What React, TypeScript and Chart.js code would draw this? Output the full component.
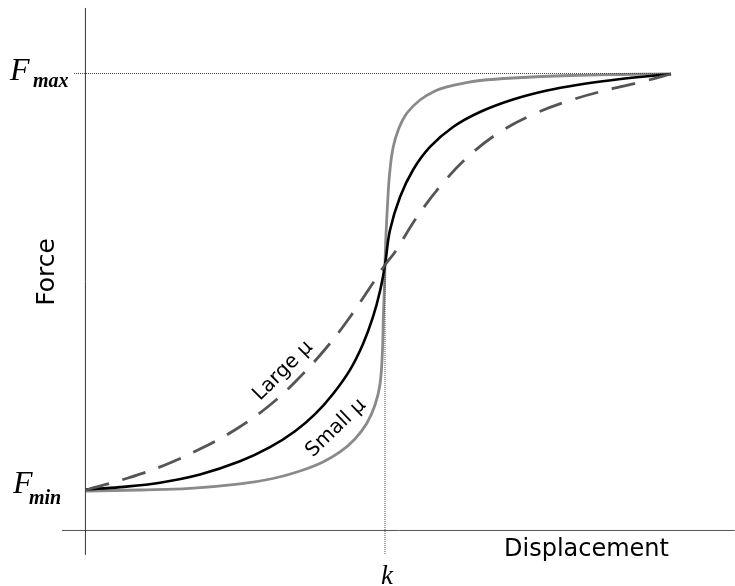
import React, { useEffect, useRef } from "react";
import { Chart, registerables } from "chart.js";

Chart.register(...registerables);

// Units: displacement 0..100 (curve span), force 0 = Fmin, 100 = Fmax
const kValue = 51.11;
const fMin = 0;
const fMax = 100;
const fAtK = 54.13;

const largeMuX = [0, 7.18, 13.5, 19.83, 25.98, 31.45, 36.07, 41.2, 45.13, 49.06, 51.11, 52.82, 56.58, 61.03, 65.64, 70.77, 76.41, 83.25, 90.09, 95.9, 100];
const largeMuY = [0.24, 3.11, 6.23, 10.3, 15.09, 20.6, 26.59, 34.49, 41.68, 49.82, 54.13, 57.25, 65.63, 73.77, 80.48, 85.99, 90.18, 93.77, 96.41, 98.32, 99.88];

const midMuX = [0, 5.81, 12.65, 19.49, 26.32, 31.45, 35.73, 39.15, 42.22, 45.13, 47.35, 49.06, 50.26, 51.11, 51.97, 53.68, 55.9, 58.8, 62.74, 67.35, 72.99, 78.8, 84.44, 90.09, 95.56, 100];
const midMuY = [0.36, 0.93, 1.99, 3.95, 7.11, 10.49, 14.32, 18.4, 23.23, 29.01, 35.21, 41.68, 47.9, 54.13, 62.51, 70.42, 76.89, 82.4, 87.19, 90.78, 93.77, 95.93, 97.37, 98.44, 99.28, 99.88];

const smallMuX = [0, 9.23, 17.78, 26.32, 31.97, 36.58, 40.34, 43.42, 45.98, 48.03, 49.4, 50.26, 50.68, 50.85, 51.03, 51.11, 51.28, 51.54, 51.88, 52.48, 53.5, 54.87, 57.09, 59.66, 61.71, 64.79, 67.35, 72.99, 82.74, 91.28, 100];
const smallMuY = [0, 0.24, 0.6, 1.68, 2.99, 4.79, 6.83, 9.34, 12.46, 16.29, 20.6, 25.63, 33.77, 42.63, 49.34, 54.13, 61.32, 68.5, 75.69, 82.16, 86.95, 90.54, 93.65, 95.81, 96.77, 97.72, 98.32, 98.92, 99.52, 99.76, 99.88];

// axis extents in data units
const axisXAt = -0.1;
const axisYAt = -9.46;
const axisXFrom = -4.1;
const axisXTo = 110.9;
const axisYFrom = -15.3;
const axisYTo = 115.7;
const fMaxLineFrom = -2.05;
const fMaxLineTo = 99.3;

const xMin = -14.7;
const xMax = 110.94;
const yMin = -22.76;
const yMax = 117.6;

const zip = (xs: number[], ys: number[]) => xs.map((x, i) => ({ x, y: ys[i] }));

const labelsPlugin = {
  id: "labels",
  afterDraw(chart: any) {
    const ctx = chart.ctx;
    const xs = chart.scales.x;
    const ys = chart.scales.y;
    ctx.save();
    ctx.fillStyle = "#000";
    // Force
    ctx.save();
    ctx.translate(54, 272);
    ctx.rotate(-Math.PI / 2);
    ctx.font = "25px 'DejaVu Sans'";
    ctx.textAlign = "center";
    ctx.textBaseline = "alphabetic";
    ctx.fillText("Force", 0, 0);
    ctx.restore();
    // Displacement
    ctx.font = "24px 'DejaVu Sans'";
    ctx.textAlign = "left";
    ctx.textBaseline = "alphabetic";
    ctx.fillText("Displacement", 504, 556);
    // F max / F min
    const yMaxPx = ys.getPixelForValue(fMax);
    const yMinPx = ys.getPixelForValue(fMin);
    ctx.font = "italic 32px 'Liberation Serif'";
    ctx.fillText("F", 10, yMaxPx + 7);
    ctx.font = "italic bold 20px 'Liberation Serif'";
    ctx.fillText("max", 33, yMaxPx + 14);
    ctx.font = "italic 32px 'Liberation Serif'";
    ctx.fillText("F", 13, yMinPx + 2);
    ctx.font = "italic bold 20px 'Liberation Serif'";
    ctx.fillText("min", 29, yMinPx + 13);
    // k
    ctx.font = "italic 27px 'Liberation Serif'";
    ctx.textAlign = "center";
    ctx.fillText("k", xs.getPixelForValue(kValue) + 2, 584);
    // Large mu / Small mu
    ctx.font = "20px 'DejaVu Sans'";
    ctx.save();
    ctx.translate(283, 371);
    ctx.rotate((-45 * Math.PI) / 180);
    ctx.textBaseline = "middle";
    ctx.fillText("Large \u03bc", 0, 0);
    ctx.restore();
    ctx.save();
    ctx.translate(336, 428);
    ctx.rotate((-44 * Math.PI) / 180);
    ctx.textBaseline = "middle";
    ctx.fillText("Small \u03bc", 0, 0);
    ctx.restore();
    ctx.restore();
  },
};

export default function App() {
  const ref = useRef<HTMLCanvasElement>(null);
  useEffect(() => {
    if (!ref.current) return;
    const dotted = { borderColor: "#444", borderWidth: 1, borderDash: [1, 1], pointRadius: 0, fill: false };
    const curve = { pointRadius: 0, tension: 0.4, fill: false };
    const chart = new Chart(ref.current, {
      type: "line",
      data: {
        datasets: [
          { ...dotted, data: [{ x: fMaxLineFrom, y: fMax }, { x: fMaxLineTo, y: fMax }] },
          { ...dotted, data: [{ x: kValue, y: fAtK }, { x: kValue, y: axisYFrom }] },
          { borderColor: "#333", borderWidth: 1, pointRadius: 0, data: [{ x: axisXAt, y: axisYFrom }, { x: axisXAt, y: axisYTo }] },
          { borderColor: "#555", borderWidth: 1, pointRadius: 0, data: [{ x: axisXFrom, y: axisYAt }, { x: axisXTo, y: axisYAt }] },
          { ...curve, label: "Large μ", borderColor: "#555", borderWidth: 2.8, borderDash: [24, 14], data: zip(largeMuX, largeMuY) },
          { ...curve, label: "medium", borderColor: "#000", borderWidth: 2.6, data: zip(midMuX, midMuY) },
          { ...curve, label: "Small μ", borderColor: "#8a8a8a", borderWidth: 2.8, data: zip(smallMuX, smallMuY) },
        ],
      },
      options: {
        responsive: false,
        animation: false,
        layout: { padding: 0 },
        scales: {
          x: { type: "linear", display: false, min: xMin, max: xMax },
          y: { type: "linear", display: false, min: yMin, max: yMax },
        },
        plugins: { legend: { display: false }, tooltip: { enabled: false } },
      },
      plugins: [labelsPlugin],
    } as any);
    return () => chart.destroy();
  }, []);
  return (
    <div style={{ position: "fixed", left: 0, top: 0, width: 735, height: 586, background: "#fff" }}>
      <canvas ref={ref} width={735} height={586} />
    </div>
  );
}
